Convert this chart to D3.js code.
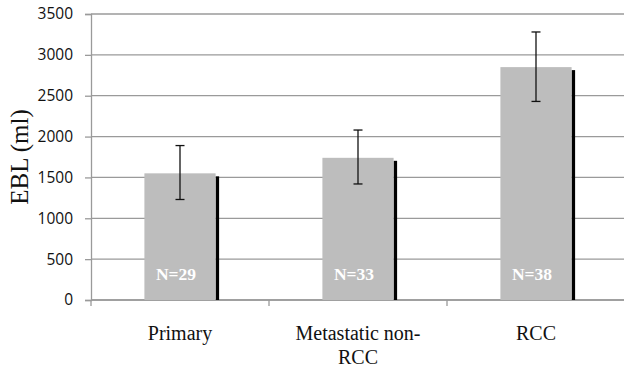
<!DOCTYPE html>
<html>
<head>
<meta charset="utf-8">
<script src="https://cdn.jsdelivr.net/npm/d3@7"></script>
<style>
  body { margin: 0; background: #fff; }
  svg { display: block; }
</style>
</head>
<body>
<svg id="chart" width="624" height="370"></svg>
<script>
// data
var categories = [["Primary"], ["Metastatic non-", "RCC"], ["RCC"]];
var means = [1550, 1740, 2850];
var errLow = [1230, 1420, 2430];
var errHigh = [1890, 2080, 3280];
var counts = ["N=29", "N=33", "N=38"];
var yTicks = [0, 500, 1000, 1500, 2000, 2500, 3000, 3500];

var plotLeft = 91, plotRight = 625, plotTop = 14, plotBottom = 300;
var barColor = "#bdbdbd";
var gridColor = "#9a9a9a";

var svg = d3.select("#chart");

var x = d3.scaleBand()
  .domain(d3.range(categories.length))
  .range([plotLeft, plotRight])
  .paddingInner(0.6)
  .paddingOuter(0.3);

var y = d3.scaleLinear().domain([0, 3500]).range([plotBottom, plotTop]);

// gridlines
svg.append("g")
  .selectAll("line")
  .data(yTicks)
  .enter().append("line")
  .attr("x1", plotLeft).attr("x2", 624)
  .attr("y1", function(d){ return y(d); })
  .attr("y2", function(d){ return y(d); })
  .attr("stroke", gridColor)
  .attr("stroke-width", 1.3);

// y axis
var yAxis = svg.append("g")
  .attr("transform", "translate(" + plotLeft + ",0)")
  .call(d3.axisLeft(y).tickValues(yTicks).tickSize(6).tickPadding(12).tickFormat(d3.format("d")));
yAxis.select(".domain").attr("stroke", gridColor).attr("stroke-width", 1.3);
yAxis.selectAll(".tick line").attr("stroke", gridColor).attr("stroke-width", 1.3);
yAxis.selectAll("text")
  .attr("font-family", "'Open Sans', 'DejaVu Sans', sans-serif")
  .attr("font-size", 15.5)
  .attr("fill", "#111");

// x axis baseline and ticks between categories
svg.append("line")
  .attr("x1", plotLeft).attr("x2", 624)
  .attr("y1", plotBottom).attr("y2", plotBottom)
  .attr("stroke", gridColor).attr("stroke-width", 1.3);
svg.append("g")
  .selectAll("line")
  .data(d3.range(categories.length + 1))
  .enter().append("line")
  .attr("x1", function(i){ return plotLeft + i * (plotRight - plotLeft) / categories.length; })
  .attr("x2", function(i){ return plotLeft + i * (plotRight - plotLeft) / categories.length; })
  .attr("y1", plotBottom).attr("y2", plotBottom + 6)
  .attr("stroke", gridColor).attr("stroke-width", 1.3);

var bars = svg.append("g");

// black shadow on right side
bars.selectAll("rect.shadow")
  .data(means)
  .enter().append("rect")
  .attr("class", "shadow")
  .attr("x", function(d, i){ return x(i) + x.bandwidth(); })
  .attr("y", function(d){ return y(d) + 3; })
  .attr("width", 3.5)
  .attr("height", function(d){ return plotBottom - y(d) - 3; })
  .attr("fill", "#000");

bars.selectAll("rect.bar")
  .data(means)
  .enter().append("rect")
  .attr("class", "bar")
  .attr("x", function(d, i){ return x(i); })
  .attr("y", function(d){ return y(d); })
  .attr("width", x.bandwidth())
  .attr("height", function(d){ return plotBottom - y(d); })
  .attr("fill", barColor);

// error bars
var err = svg.append("g").attr("stroke", "#111").attr("stroke-width", 1.3);
means.forEach(function(m, i){
  var cx = x(i) + x.bandwidth() / 2;
  err.append("line").attr("x1", cx).attr("x2", cx).attr("y1", y(errHigh[i])).attr("y2", y(errLow[i]));
  err.append("line").attr("x1", cx - 4.5).attr("x2", cx + 4.5).attr("y1", y(errHigh[i])).attr("y2", y(errHigh[i]));
  err.append("line").attr("x1", cx - 4.5).attr("x2", cx + 4.5).attr("y1", y(errLow[i])).attr("y2", y(errLow[i]));
});

// N labels
svg.append("g")
  .selectAll("text")
  .data(counts)
  .enter().append("text")
  .attr("x", function(d, i){ return x(i) + x.bandwidth() / 2 - 4; })
  .attr("y", 280)
  .attr("text-anchor", "middle")
  .attr("font-family", "'Liberation Serif', 'DejaVu Serif', serif")
  .attr("font-weight", "bold")
  .attr("font-size", 17.5)
  .attr("fill", "#fff")
  .text(function(d){ return d; });

// category labels
var cat = svg.append("g")
  .selectAll("text")
  .data(categories)
  .enter().append("text")
  .attr("text-anchor", "middle")
  .attr("font-family", "'Liberation Serif', 'DejaVu Serif', serif")
  .attr("font-size", 20)
  .attr("fill", "#111");
cat.each(function(lines, i){
  var t = d3.select(this);
  lines.forEach(function(l, k){
    t.append("tspan")
      .attr("x", x(i) + x.bandwidth() / 2)
      .attr("y", 340 + k * 24)
      .text(l);
  });
});

// y title
svg.append("text")
  .attr("transform", "translate(28,157) rotate(-90)")
  .attr("text-anchor", "middle")
  .attr("font-family", "'Liberation Serif', 'DejaVu Serif', serif")
  .attr("font-size", 25)
  .attr("fill", "#111")
  .text("EBL (ml)");
</script>
</body>
</html>
